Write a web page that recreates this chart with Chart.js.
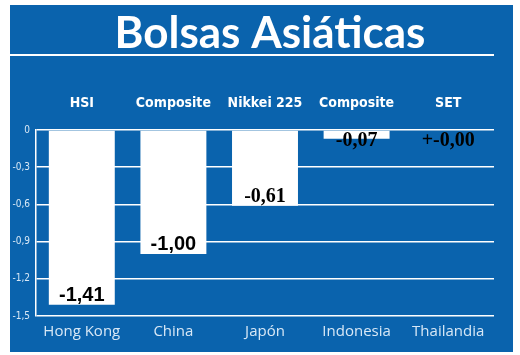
<!DOCTYPE html>
<html>
<head>
<meta charset="utf-8">
<script src="https://cdn.jsdelivr.net/npm/chart.js@4"></script>
<style>
  body { margin: 0; background: #fff; }
  #wrap { position: absolute; left: 10px; top: 5px; width: 503px; height: 347px; background: #0a63ad; }
</style>
</head>
<body>
<div id="wrap"><canvas id="bolsasChart" width="503" height="347"></canvas></div>
<script>
const countries = ["Hong Kong", "China", "Japón", "Indonesia", "Thailandia"];
const indexNames = ["HSI", "Composite", "Nikkei 225", "Composite", "SET"];
const changes = [-1.41, -1.00, -0.61, -0.07, 0.00];
const yTicks = [0, -0.3, -0.6, -0.9, -1.2, -1.5];
const titleText = "Bolsas Asiáticas";

const fmt = (v) => (v === 0 ? "+-0,00" : v.toFixed(2).replace(".", ","));
const labelFonts = ["Liberation Sans", "Liberation Sans", "Liberation Serif", "Liberation Serif", "Liberation Serif"];

// title, underline and value labels
const extras = {
  id: "extras",
  afterDraw(chart) {
    const ctx = chart.ctx;
    ctx.save();
    ctx.fillStyle = "#ffffff";
    ctx.font = "bold 44px Lato";
    ctx.textAlign = "center";
    ctx.textBaseline = "alphabetic";
    ctx.fillText(titleText, 260, 43);

    ctx.strokeStyle = "#ffffff";
    ctx.lineWidth = 2;
    ctx.beginPath();
    ctx.moveTo(0, 50);
    ctx.lineTo(chart.chartArea.right, 50);
    ctx.stroke();

    const zeroY = chart.scales.y.getPixelForValue(0);
    chart.getDatasetMeta(0).data.forEach((bar, i) => {
      let y = Math.max(bar.y - 11, zeroY + 9);
      ctx.font = "bold 20px '" + labelFonts[i] + "'";
      ctx.fillStyle = "#000";
      ctx.fillText(fmt(changes[i]), bar.x, y + 7);
    });
    ctx.restore();
  },
};

new Chart(document.getElementById("bolsasChart"), {
  type: "bar",
  data: {
    labels: countries,
    datasets: [
      {
        data: changes,
        backgroundColor: "#ffffff",
        barPercentage: 0.72,
        categoryPercentage: 1,
        xAxisID: "x",
      },
    ],
  },
  options: {
    responsive: false,
    animation: false,
    layout: { padding: { right: 19, top: 51, bottom: 0, left: 0 } },
    plugins: {
      legend: { display: false },
      tooltip: { enabled: false },
      title: { display: false },
    },
    scales: {
      x: {
        position: "bottom",
        grid: { display: false, drawTicks: false },
        border: { display: false },
        ticks: { color: "#d8e8f6", font: { family: "Open Sans", size: 15 }, padding: 7 },
        afterFit(s) { s.height = 36; },
      },
      x2: {
        type: "category",
        labels: indexNames,
        position: "top",
        grid: { display: false, drawTicks: false },
        border: { display: false },
        ticks: { color: "#ffffff", font: { family: "DejaVu Sans Condensed", weight: "bold", size: 14 }, padding: 18 },
        afterFit(s) { s.height = 74; },
      },
      y: {
        min: -1.5,
        max: 0,
        afterBuildTicks(s) { s.ticks = yTicks.map((v) => ({ value: v })); },
        grid: { color: "#ffffff", lineWidth: 1.5, drawTicks: false },
        border: { color: "#ffffff", width: 1.5 },
        ticks: {
          color: "#d8e8f6",
          font: { family: "DejaVu Sans Condensed", size: 10 },
          padding: 6,
          callback: (v) => (v === 0 ? "0" : v.toFixed(1).replace(".", ",")),
        },
        afterFit(s) { s.width = 26; },
      },
    },
  },
  plugins: [extras],
});
</script>
</body>
</html>
